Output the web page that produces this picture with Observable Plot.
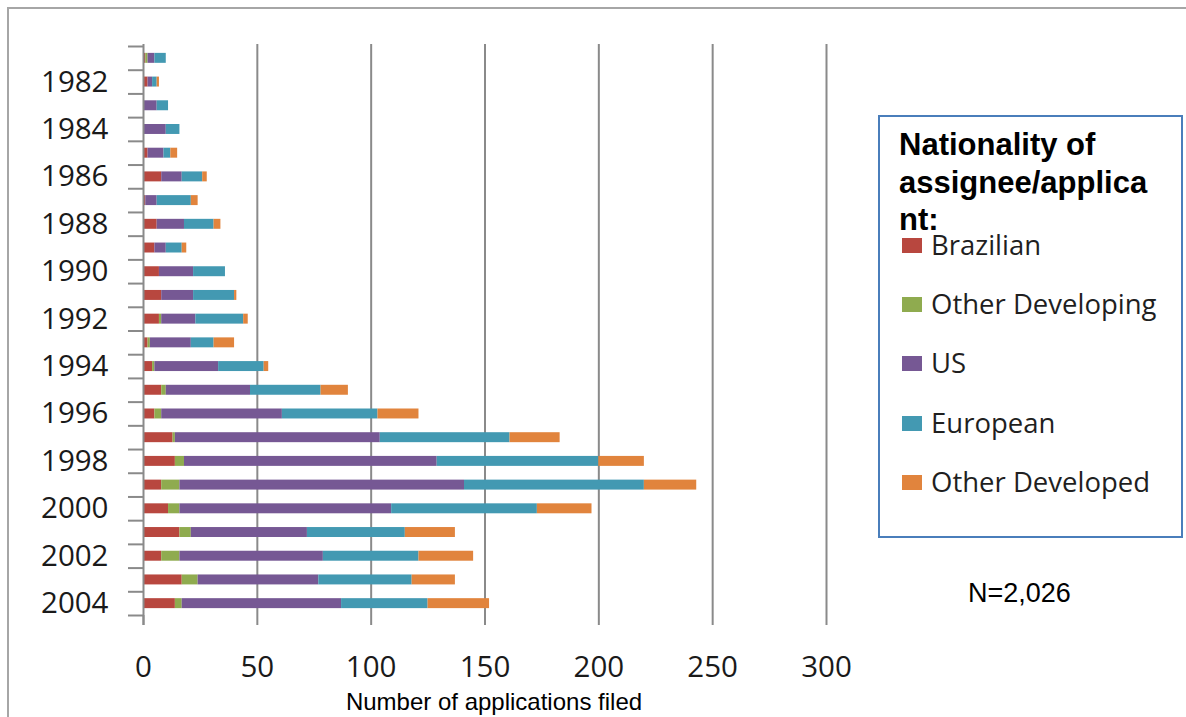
<!DOCTYPE html>
<html>
<head>
<meta charset="utf-8">
<script src="https://cdn.jsdelivr.net/npm/d3@7"></script>
<script src="https://cdn.jsdelivr.net/npm/@observablehq/plot@0.6"></script>
<style>
  html, body { margin: 0; padding: 0; background: #fff; }
  #wrap { position: relative; width: 1186px; height: 717px; overflow: hidden; background: #fff; }
  #chart { position: absolute; left: 0; top: 0; }
  .frame-top { position: absolute; left: 7px; top: 7px; right: 0; height: 2px; background: #a6a6a6; }
  .frame-left { position: absolute; left: 7px; top: 7px; bottom: 0; width: 2px; background: #a6a6a6; }
  #legend { position: absolute; left: 878px; top: 115px; width: 305px; height: 423px; box-sizing: border-box; border: 2px solid #4a7ebb; }
  .legend-title { position: absolute; left: 899px; top: 126px; font: bold 31px/37.5px "Liberation Sans", Arial, sans-serif; color: #000; white-space: nowrap; }
  .legend-item { position: absolute; left: 902px; height: 30px; }
  .legend-item .sw { position: absolute; left: 0; width: 20px; height: 15px; }
  .legend-item .lb { position: absolute; left: 29px; font: 27.5px/27.5px "Open Sans", sans-serif; color: #1f1f1f; white-space: nowrap; }
  .note { position: absolute; font-family: "Liberation Sans", Arial, sans-serif; color: #000; white-space: nowrap; line-height: 1; }
</style>
</head>
<body>
<div id="wrap">
  <div id="chart"></div>
  <div class="frame-top"></div>
  <div class="frame-left"></div>
  <div id="legend"></div>
</div>
<script>
// Patent applications filed per year, by nationality of the assignee/applicant
const years = [1981, 1982, 1983, 1984, 1985, 1986, 1987, 1988, 1989, 1990, 1991, 1992,
               1993, 1994, 1995, 1996, 1997, 1998, 1999, 2000, 2001, 2002, 2003, 2004];
const labelYears = [1982, 1984, 1986, 1988, 1990, 1992, 1994, 1996, 1998, 2000, 2002, 2004];

const categories = ["Brazilian", "Other Developing", "US", "European", "Other Developed"];
const colors = ["#b8473f", "#8fab4f", "#765894", "#4399b2", "#e1843d"];

const brazilian       = [1, 2, 0, 0, 2, 8, 1, 6, 5, 7, 8, 7, 2, 4, 8, 5, 13, 14, 8, 11, 16, 8, 17, 14];
const otherDeveloping = [1, 0, 0, 0, 0, 0, 0, 0, 0, 0, 0, 1, 1, 1, 2, 3, 1, 4, 8, 5, 5, 8, 7, 3];
const us              = [3, 2, 6, 10, 7, 9, 5, 12, 5, 15, 14, 15, 18, 28, 37, 53, 90, 111, 125, 93, 51, 63, 53, 70];
const european        = [5, 2, 5, 6, 3, 9, 15, 13, 7, 14, 18, 21, 10, 20, 31, 42, 57, 71, 79, 64, 43, 42, 41, 38];
const otherDeveloped  = [0, 1, 0, 0, 3, 2, 3, 3, 2, 0, 1, 2, 9, 2, 12, 18, 22, 20, 23, 24, 22, 24, 19, 27];

const xTicks = [0, 50, 100, 150, 200, 250, 300];
const xTitle = "Number of applications filed";
const legendTitle = ["Nationality of", "assignee/applica", "nt:"];
const noteText = "N=2,026";

// long table: one row per year and nationality, in stacking order
const series = [brazilian, otherDeveloping, us, european, otherDeveloped];
const rows = [];
years.forEach((year, i) => {
  categories.forEach((category, k) => {
    rows.push({year, category, value: series[k][i]});
  });
});

const W = 1186, H = 717;
const marginTop = 46, marginBottom = 102, marginLeft = 143, marginRight = 360;
const step = (H - marginTop - marginBottom) / years.length;
const gray = "#8a8a8a";
const tickFont = {fontFamily: "'Open Sans', sans-serif", fontSize: 29.5};

const chart = Plot.plot({
  width: W,
  height: H,
  marginTop, marginBottom, marginLeft, marginRight,
  style: {background: "transparent", color: "#222", ...tickFont},
  x: {domain: [0, 300]},
  y: {type: "band", domain: years, paddingInner: 0.58, paddingOuter: 0.29, round: false},
  color: {domain: categories, range: colors},
  marks: [
    Plot.gridX({ticks: xTicks.slice(1), stroke: gray, strokeOpacity: 1, strokeWidth: 2, insetTop: -2}),
    Plot.axisX({ticks: xTicks, tickSize: 10, tickPadding: 31, stroke: gray, strokeWidth: 2,
                label: null, fill: "#1a1a1a", ...tickFont}),
    Plot.barX(rows, {x: "value", y: "year", fill: "category"}),
    Plot.ruleX([0], {stroke: gray, strokeWidth: 2, insetTop: -2, insetBottom: -10}),
    // category boundary ticks between the year rows
    Plot.axisY({ticks: years, tickSize: 15, tickFormat: () => "", dy: -step / 2,
                stroke: gray, strokeWidth: 2, label: null}),
    Plot.axisY({ticks: [years[years.length - 1]], tickSize: 15, tickFormat: () => "", dy: step / 2,
                stroke: gray, strokeWidth: 2, label: null}),
    Plot.axisY({ticks: labelYears, tickSize: 0, tickPadding: 35, tickFormat: d => String(d),
                label: null, fill: "#1a1a1a", ...tickFont})
  ]
});
document.getElementById("chart").appendChild(chart);

const wrap = document.getElementById("wrap");

// legend
const title = document.createElement("div");
title.className = "legend-title";
title.innerHTML = legendTitle.join("<br>");
wrap.appendChild(title);

categories.forEach((name, k) => {
  const item = document.createElement("div");
  item.className = "legend-item";
  item.style.top = (238 + k * 59.2) + "px";
  const sw = document.createElement("div");
  sw.className = "sw";
  sw.style.background = colors[k];
  const lb = document.createElement("div");
  lb.className = "lb";
  lb.style.top = "-7px";
  lb.textContent = name;
  item.appendChild(sw);
  item.appendChild(lb);
  wrap.appendChild(item);
});

// sample size note and x axis title
const note = document.createElement("div");
note.className = "note";
note.style.cssText = "left:968px;top:580px;font-size:27px;";
note.textContent = noteText;
wrap.appendChild(note);

const xt = document.createElement("div");
xt.className = "note";
xt.style.cssText = "left:0;width:988px;text-align:center;top:690px;font-size:24px;";
xt.textContent = xTitle;
wrap.appendChild(xt);
</script>
</body>
</html>
